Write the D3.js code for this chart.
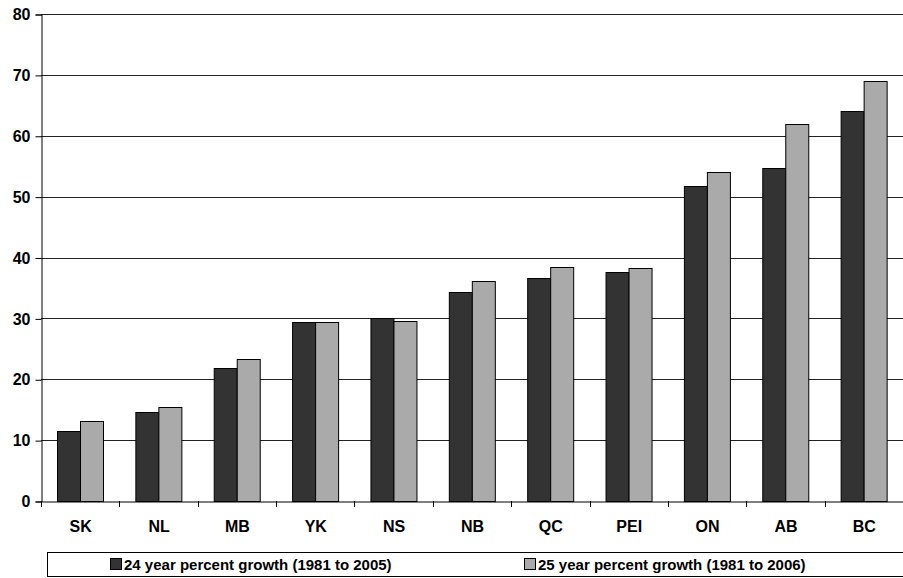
<!DOCTYPE html>
<html>
<head>
<meta charset="utf-8">
<script src="https://cdn.jsdelivr.net/npm/d3@7"></script>
<style>
  html, body { margin: 0; padding: 0; background: #fff; }
  svg { display: block; font-family: Arial, "Liberation Sans", sans-serif; }
</style>
</head>
<body>
<svg id="chart" width="903" height="578"></svg>
<script>
// Provinces and territories, ordered by growth
const categories = ["SK", "NL", "MB", "YK", "NS", "NB", "QC", "PEI", "ON", "AB", "BC"];
const growth24 = [11.5, 14.7, 21.8, 29.4, 30.0, 34.3, 36.7, 37.6, 51.8, 54.7, 64.0];
const growth25 = [13.1, 15.5, 23.3, 29.4, 29.6, 36.2, 38.4, 38.2, 54.1, 61.9, 69.0];
const seriesNames = ["24 year percent growth (1981 to 2005)", "25 year percent growth (1981 to 2006)"];
const seriesColors = ["#333333", "#aaaaaa"];
const yTicks = [0, 10, 20, 30, 40, 50, 60, 70, 80];

const svg = d3.select("#chart");
const margin = { left: 41, right: 0, top: 14, bottom: 77 };
const W = 903, H = 578;
const plotBottom = H - margin.bottom;
const font = "Arial, 'Liberation Sans', sans-serif";

const x = d3.scaleBand().domain(categories).range([margin.left, W - margin.right]).paddingInner(0).paddingOuter(0);
const inner = d3.scaleBand().domain([0, 1]).range([0, x.bandwidth()]).paddingInner(0).paddingOuter(0.7);
const y = d3.scaleLinear().domain([0, 80]).range([plotBottom, margin.top]);

// Horizontal gridlines
svg.append("g")
  .selectAll("line")
  .data(yTicks.filter(d => d > 0))
  .join("line")
  .attr("x1", margin.left).attr("x2", W)
  .attr("y1", d => Math.round(y(d)) + 0.5).attr("y2", d => Math.round(y(d)) + 0.5)
  .attr("stroke", "#222").attr("stroke-width", 1);

// Bars
const series = [growth24, growth25];
const groups = svg.append("g").selectAll("g")
  .data(categories)
  .join("g")
  .attr("transform", d => `translate(${x(d)},0)`);

groups.selectAll("rect")
  .data((d, i) => series.map((s, k) => ({ k, v: s[i] })))
  .join("rect")
  .attr("x", d => Math.round(inner(d.k)) + 0.5)
  .attr("width", Math.round(inner.bandwidth()))
  .attr("y", d => Math.round(y(d.v)) + 0.5)
  .attr("height", d => plotBottom - Math.round(y(d.v)))
  .attr("fill", d => seriesColors[d.k])
  .attr("stroke", "#000").attr("stroke-width", 1);

// Y axis
const yAxis = svg.append("g")
  .attr("transform", `translate(${margin.left + 0.5},0.5)`)
  .call(d3.axisLeft(y).tickValues(yTicks).tickSize(6).tickPadding(5).tickFormat(d3.format("d")));
yAxis.select(".domain").attr("stroke", "#000");
yAxis.selectAll(".tick line").attr("stroke", "#000");
yAxis.selectAll("text").attr("font-size", 16).attr("font-weight", "bold").attr("fill", "#000")
  .attr("font-family", font);

// X axis
const xAxis = svg.append("g")
  .attr("transform", `translate(0.5,${plotBottom + 0.5})`)
  .call(d3.axisBottom(x).tickSize(0).tickPadding(19));
xAxis.select(".domain").attr("stroke", "#000");
xAxis.selectAll("text").attr("font-size", 16).attr("font-weight", "bold").attr("fill", "#000")
  .attr("font-family", font);
// Category separators below the axis
svg.append("g").selectAll("line")
  .data(categories.concat(["end"]))
  .join("line")
  .attr("x1", (d, i) => Math.round(margin.left + i * x.bandwidth()) + 0.5)
  .attr("x2", (d, i) => Math.round(margin.left + i * x.bandwidth()) + 0.5)
  .attr("y1", plotBottom).attr("y2", plotBottom + 6)
  .attr("stroke", "#000");

// Legend
const legend = svg.append("g");
legend.append("rect")
  .attr("x", 47.5).attr("y", 552.5).attr("width", 870).attr("height", 24)
  .attr("fill", "#fff").attr("stroke", "#000");
const legendX = [110, 524];
seriesNames.forEach((name, k) => {
  legend.append("rect")
    .attr("x", legendX[k] + 0.5).attr("y", 558.5).attr("width", 11).attr("height", 11)
    .attr("fill", seriesColors[k]).attr("stroke", "#000");
  legend.append("text")
    .attr("x", legendX[k] + 14).attr("y", 570)
    .attr("font-size", 15).attr("font-weight", "bold").attr("fill", "#000")
    .attr("font-family", font)
    .text(name);
});
</script>
</body>
</html>
